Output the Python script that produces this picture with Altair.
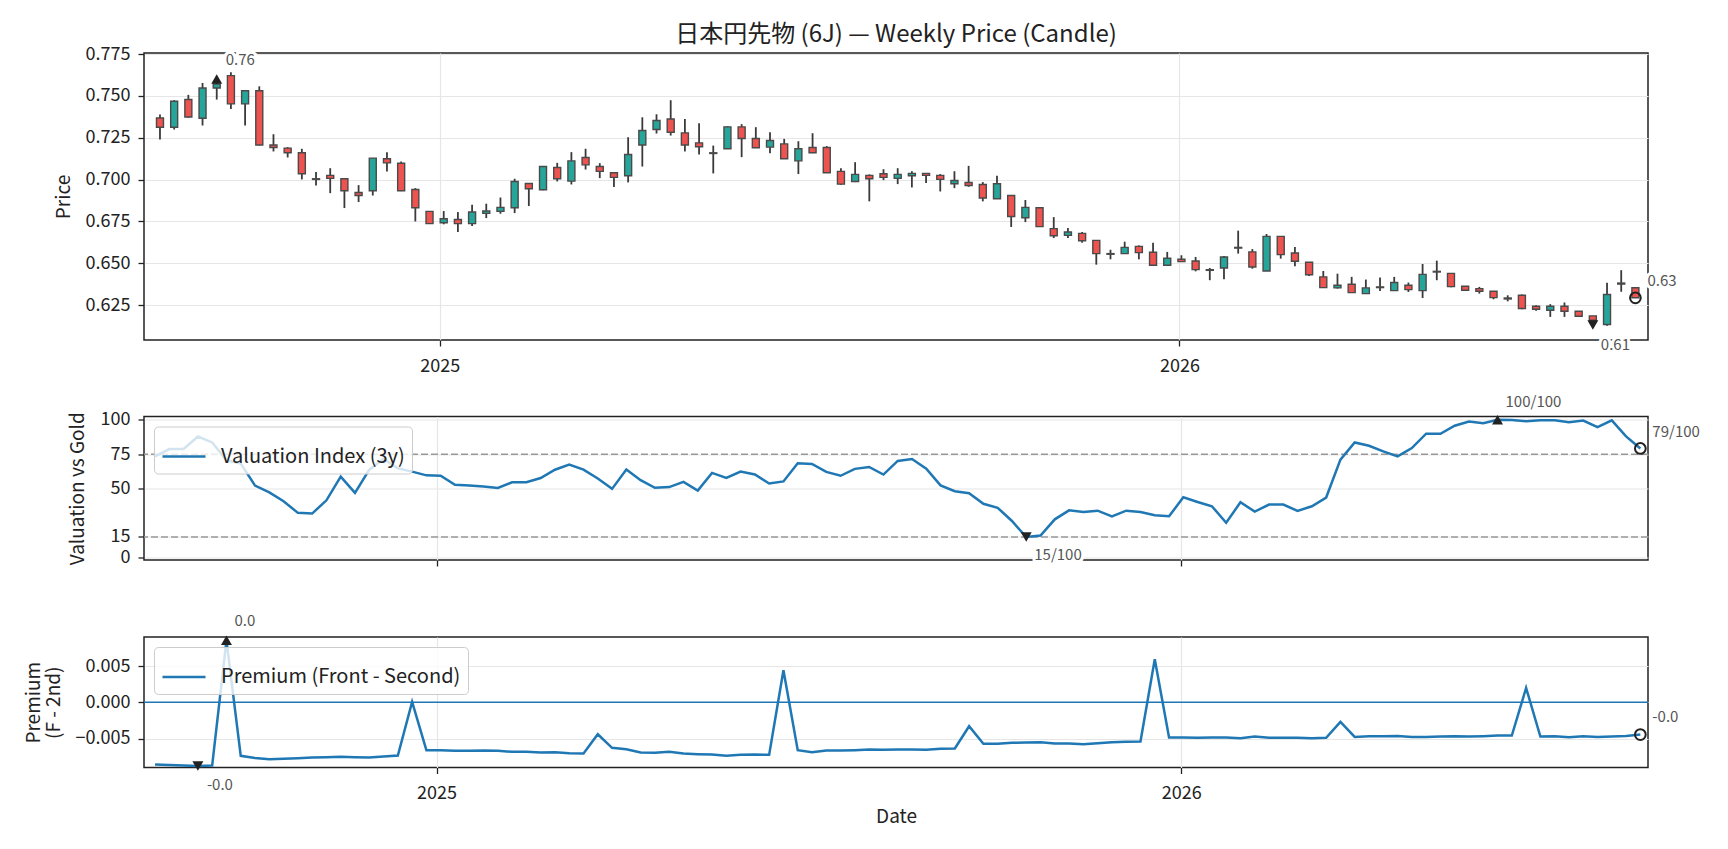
import altair as alt
import pandas as pd
import numpy as np

# ---------------- data ----------------
start_date = "2024-08-16"
n_weeks = 105

open_ = [0.7368,0.7313,0.7478,0.7366,0.7547,0.7621,0.7452,0.7531,0.7207,0.7188,
         0.7160,0.7005,0.7025,0.7005,0.6923,0.6933,0.7124,0.7098,0.6941,0.6810,
         0.6742,0.6762,0.6737,0.6798,0.6810,0.6832,0.6977,0.6939,0.7072,0.6991,
         0.7132,0.7078,0.7041,0.7023,0.7207,0.7299,0.7362,0.7279,0.7219,0.7160,
         0.7184,0.7315,0.7245,0.7194,0.7213,0.7112,0.7192,0.7192,0.7049,0.6989,
         0.7025,0.7035,0.7007,0.7023,0.7037,0.7025,0.6975,0.6983,0.6971,0.6886,
         0.6905,0.6772,0.6832,0.6707,0.6667,0.6679,0.6637,0.6558,0.6558,0.6601,
         0.6566,0.6488,0.6524,0.6514,0.6462,0.6472,0.6595,0.6568,0.6454,0.6661,
         0.6562,0.6506,0.6419,0.6353,0.6375,0.6319,0.6359,0.6337,0.6369,0.6337,
         0.6452,0.6440,0.6363,0.6349,0.6333,0.6293,0.6309,0.6244,0.6220,0.6244,
         0.6214,0.6186,0.6135,0.6382,0.6354]
high = [0.7388,0.7474,0.7506,0.7577,0.7601,0.7641,0.7533,0.7557,0.7271,0.7194,
        0.7184,0.7045,0.7068,0.7005,0.6967,0.7128,0.7164,0.7108,0.6949,0.6810,
        0.6812,0.6806,0.6850,0.6856,0.6893,0.7005,0.6977,0.7080,0.7100,0.7164,
        0.7184,0.7098,0.7045,0.7253,0.7372,0.7390,0.7474,0.7362,0.7337,0.7203,
        0.7319,0.7331,0.7313,0.7283,0.7243,0.7229,0.7277,0.7200,0.7068,0.7104,
        0.7031,0.7062,0.7068,0.7050,0.7037,0.7033,0.7050,0.7082,0.6985,0.7023,
        0.6905,0.6878,0.6834,0.6776,0.6711,0.6687,0.6637,0.6581,0.6629,0.6607,
        0.6623,0.6568,0.6548,0.6538,0.6472,0.6544,0.6695,0.6585,0.6675,0.6661,
        0.6597,0.6506,0.6454,0.6438,0.6419,0.6403,0.6415,0.6419,0.6385,0.6496,
        0.6516,0.6440,0.6363,0.6359,0.6333,0.6309,0.6313,0.6250,0.6256,0.6266,
        0.6214,0.6186,0.6384,0.6459,0.6354]
low = [0.7239,0.7299,0.7370,0.7323,0.7478,0.7422,0.7323,0.7205,0.7168,0.7132,
       0.7001,0.6965,0.6919,0.6830,0.6866,0.6905,0.7049,0.6931,0.6750,0.6735,
       0.6733,0.6687,0.6723,0.6770,0.6796,0.6800,0.6842,0.6937,0.6989,0.6971,
       0.7060,0.7009,0.6955,0.6983,0.7078,0.7275,0.7263,0.7168,0.7150,0.7037,
       0.7184,0.7134,0.7190,0.7158,0.7124,0.7033,0.7158,0.7041,0.6969,0.6985,
       0.6870,0.6997,0.6973,0.6953,0.6979,0.6929,0.6949,0.6957,0.6870,0.6886,
       0.6717,0.6746,0.6719,0.6651,0.6651,0.6623,0.6492,0.6524,0.6558,0.6524,
       0.6484,0.6484,0.6508,0.6452,0.6399,0.6405,0.6558,0.6468,0.6454,0.6528,
       0.6482,0.6424,0.6355,0.6349,0.6325,0.6319,0.6335,0.6337,0.6329,0.6293,
       0.6399,0.6357,0.6335,0.6319,0.6285,0.6273,0.6226,0.6216,0.6180,0.6180,
       0.6184,0.6160,0.6127,0.6330,0.6294]
close = [0.7313,0.7468,0.7374,0.7547,0.7571,0.7452,0.7531,0.7207,0.7192,0.7160,
         0.7035,0.7001,0.7007,0.6933,0.6905,0.7128,0.7100,0.6933,0.6832,0.6737,
         0.6766,0.6737,0.6806,0.6812,0.6834,0.6989,0.6945,0.7078,0.7005,0.7112,
         0.7088,0.7049,0.7013,0.7150,0.7293,0.7353,0.7283,0.7207,0.7196,0.7156,
         0.7315,0.7245,0.7190,0.7233,0.7124,0.7184,0.7160,0.7041,0.6973,0.7031,
         0.7005,0.7013,0.7031,0.7037,0.7025,0.7001,0.6995,0.6965,0.6890,0.6975,
         0.6780,0.6834,0.6719,0.6665,0.6687,0.6635,0.6558,0.6554,0.6595,0.6564,
         0.6488,0.6530,0.6510,0.6462,0.6458,0.6538,0.6591,0.6478,0.6661,0.6552,
         0.6512,0.6432,0.6355,0.6369,0.6325,0.6353,0.6355,0.6385,0.6343,0.6434,
         0.6448,0.6361,0.6339,0.6333,0.6295,0.6287,0.6230,0.6226,0.6244,0.6214,
         0.6184,0.6160,0.6314,0.6376,0.6294]
valuation = [73.5,78.8,78.8,87.9,83.6,70.6,68.2,52.3,47.4,40.9,
             32.5,32.0,41.6,58.8,47.0,63.8,71.6,64.8,62.4,59.7,
             59.5,52.8,52.3,51.6,50.6,54.7,54.7,57.8,63.8,67.5,
             63.9,57.4,49.9,63.9,56.2,50.7,51.2,55.0,48.7,61.5,
             57.9,62.5,60.3,53.8,55.3,68.5,68.0,62.2,59.4,64.4,
             65.8,60.3,70.2,71.6,64.6,52.4,48.2,46.8,39.1,36.2,
             26.6,15.0,16.0,27.8,34.3,33.1,34.1,30.0,34.1,33.1,
             30.7,30.0,43.8,40.4,37.3,25.3,40.2,33.4,38.5,38.5,
             33.9,37.3,43.6,71.1,83.6,81.2,77.1,73.5,79.5,89.9,
             89.9,95.7,98.8,97.6,100.0,99.8,99.0,99.7,99.7,98.3,
             99.5,94.7,99.6,88.0,79.2]
premium = [-0.00858,-0.00867,-0.00872,-0.00880,-0.00872,0.00854,-0.00739,-0.00770,-0.00785,-0.00780,
           -0.00771,-0.00762,-0.00757,-0.00753,-0.00757,-0.00762,-0.00748,-0.00734,0.00005,-0.00661,
           -0.00661,-0.00670,-0.00670,-0.00665,-0.00670,-0.00684,-0.00684,-0.00693,-0.00688,-0.00702,
           -0.00707,-0.00441,-0.00629,-0.00647,-0.00693,-0.00698,-0.00684,-0.00707,-0.00716,-0.00721,
           -0.00739,-0.00725,-0.00721,-0.00725,0.00441,-0.00661,-0.00689,-0.00666,-0.00666,-0.00661,
           -0.00652,-0.00656,-0.00652,-0.00652,-0.00656,-0.00643,-0.00638,-0.00331,-0.00574,-0.00574,
           -0.00560,-0.00556,-0.00551,-0.00569,-0.00569,-0.00579,-0.00565,-0.00551,-0.00546,-0.00542,
           0.00592,-0.00487,-0.00487,-0.00491,-0.00487,-0.00487,-0.00496,-0.00473,-0.00491,-0.00491,
           -0.00491,-0.00496,-0.00491,-0.00271,-0.00478,-0.00468,-0.00468,-0.00464,-0.00478,-0.00478,
           -0.00473,-0.00468,-0.00473,-0.00468,-0.00459,-0.00459,0.00197,-0.00473,-0.00468,-0.00482,
           -0.00468,-0.00478,-0.00473,-0.00464,-0.00446]

price_ticks = [0.625, 0.650, 0.675, 0.700, 0.725, 0.750, 0.775]
val_ticks = [0, 15, 50, 75, 100]
prem_ticks = [-0.005, 0.0, 0.005]
val_bands = [15, 75]
prem_zero = [0.0]

# highlighted points: (date, value, label)
price_hi = {"date": ["2024-09-13"], "value": [0.7601], "label": ["0.76"]}
price_lo = {"date": ["2026-07-24"], "value": [0.6131], "label": ["0.61"]}
price_last = {"date": ["2026-08-14"], "value": [0.6294], "label": ["0.63"]}
val_hi = {"date": ["2026-06-05"], "value": [100.0], "label": ["100/100"]}
val_lo = {"date": ["2025-10-17"], "value": [15.0], "label": ["15/100"]}
val_last = {"date": ["2026-08-14"], "value": [79.2], "label": ["79/100"]}
prem_hi = {"date": ["2024-09-20"], "value": [0.00854], "label": ["0.0"]}
prem_lo = {"date": ["2024-09-06"], "value": [-0.00880], "label": ["-0.0"]}
prem_last = {"date": ["2026-08-14"], "value": [-0.00446], "label": ["-0.0"]}

# ---------------- frames ----------------
dates = pd.date_range(start_date, periods=n_weeks, freq="7D").strftime("%Y-%m-%d")
candles = pd.DataFrame({"date": dates, "open": open_, "high": high, "low": low, "close": close})
candles["dir"] = np.where(np.array(close) >= np.array(open_), "up", "down")
val_df = pd.DataFrame({"date": dates, "value": valuation, "series": "Valuation Index (3y)"})
prem_df = pd.DataFrame({"date": dates, "value": premium, "series": "Premium (Front - Second)"})

FONT = "Noto Sans CJK JP"
DARK = "#222222"

x_domain = [alt.DateTime(year=2024, month=8, date=10, hours=14, utc=True),
            alt.DateTime(year=2026, month=8, date=17, hours=18, utc=True)]
x_vals = [alt.DateTime(year=2025, month=1, date=1, utc=True),
          alt.DateTime(year=2026, month=1, date=1, utc=True)]


def X(labels=True, title=None):
    ax = alt.Axis(values=x_vals, format="%Y", formatType="utc", labels=labels,
                  grid=True, labelPadding=11, titlePadding=5)
    if title is None:
        return alt.X("date:T", scale=alt.Scale(type="utc", domain=x_domain), axis=ax, title=None)
    return alt.X("date:T", scale=alt.Scale(type="utc", domain=x_domain), axis=ax, title=title)


def Yp(field):
    return alt.Y(field, scale=alt.Scale(domain=[0.6042, 0.7756], nice=False, zero=False),
                 axis=alt.Axis(values=price_ticks, format=".3f", titleX=-81, titleY=143.5,
                               titleBaseline="middle"),
                 title="Price")


def Yv(field):
    return alt.Y(field, scale=alt.Scale(domain=[-1.7, 102.4], nice=False, zero=False),
                 axis=alt.Axis(values=val_ticks, format="d", titleX=-67, titleY=71.75,
                               titleBaseline="middle"),
                 title="Valuation vs Gold")


def Yq(field):
    return alt.Y(field, scale=alt.Scale(domain=[-0.0090, 0.0090], nice=False, zero=False),
                 axis=alt.Axis(values=prem_ticks, format=".3f", titleX=-111, titleY=65.25,
                               titleBaseline="middle", titleLineHeight=20),
                 title=["Premium", "(F - 2nd)"])


def markers(d, shape, ycode, xcode, filled=True):
    return alt.Chart(pd.DataFrame(d)).mark_point(
        shape=shape, filled=filled, size=120 if filled else 115, color=DARK,
        strokeWidth=2, opacity=1
    ).encode(x=xcode, y=ycode)


def label(d, ycode, xcode, dx, dy):
    base = alt.Chart(pd.DataFrame(d))
    halo = base.mark_text(align="left", baseline="middle", dx=dx, dy=dy, fontSize=15,
                          color="white", stroke="white", strokeWidth=6).encode(
        x=xcode, y=ycode, text="label:N")
    txt = base.mark_text(align="left", baseline="middle", dx=dx, dy=dy, fontSize=15,
                         color="#555555").encode(x=xcode, y=ycode, text="label:N")
    return [halo, txt]


# ---------------- top: candles ----------------
xt = X(labels=True)
wick = alt.Chart(candles).mark_rule(color="#3a3a3a", strokeWidth=1.8).encode(
    x=xt, y=Yp("low:Q"), y2="high:Q")
body = alt.Chart(candles).mark_bar(size=7, stroke="#4a4a4a", strokeWidth=1.4).encode(
    x=xt, y=Yp("open:Q"), y2="close:Q",
    color=alt.Color("dir:N", scale=alt.Scale(domain=["up", "down"], range=["#26a69a", "#ef5350"]),
                    legend=None))
top = alt.layer(
    wick, body,
    markers(price_hi, "triangle-up", Yp("value:Q"), xt),
    markers(price_lo, "triangle-down", Yp("value:Q"), xt),
    markers(price_last, "circle", Yp("value:Q"), xt, filled=False),
    *label(price_hi, Yp("value:Q"), xt, 9, -19),
    *label(price_lo, Yp("value:Q"), xt, 8, 20),
    *label(price_last, Yp("value:Q"), xt, 12, -17),
).properties(width=1504, height=287,
             title=alt.TitleParams("日本円先物 (6J) — Weekly Price (Candle)", anchor="middle",
                                   fontSize=24, fontWeight="normal", color=DARK, offset=-2))

# ---------------- middle: valuation ----------------
xm = X(labels=False)
bands = alt.Chart(pd.DataFrame({"value": val_bands})).mark_rule(
    color="#999999", strokeDash=[7, 3], strokeWidth=1.5).encode(y=Yv("value:Q"))
vline = alt.Chart(val_df).mark_line(strokeWidth=2.5).encode(
    x=xm, y=Yv("value:Q"),
    color=alt.Color("series:N", scale=alt.Scale(range=["#1f77b4"]), title=None,
                    legend=alt.Legend(orient="top-left")))
mid = alt.layer(
    bands, vline,
    markers(val_hi, "triangle-up", Yv("value:Q"), xm),
    markers(val_lo, "triangle-down", Yv("value:Q"), xm),
    markers(val_last, "circle", Yv("value:Q"), xm, filled=False),
    *label(val_hi, Yv("value:Q"), xm, 8, -18),
    *label(val_lo, Yv("value:Q"), xm, 8, 18),
    *label(val_last, Yv("value:Q"), xm, 12, -16),
).properties(width=1504, height=143.5)

# ---------------- bottom: premium ----------------
xb = X(labels=True, title="Date")
zero = alt.Chart(pd.DataFrame({"value": prem_zero})).mark_rule(
    color="#1f77b4", strokeWidth=1.6).encode(y=Yq("value:Q"))
pline = alt.Chart(prem_df).mark_line(strokeWidth=2.5).encode(
    x=xb, y=Yq("value:Q"),
    color=alt.Color("series:N", scale=alt.Scale(range=["#1f77b4"]), title=None,
                    legend=alt.Legend(orient="top-left")))
bot = alt.layer(
    zero, pline,
    markers(prem_hi, "triangle-up", Yq("value:Q"), xb),
    markers(prem_lo, "triangle-down", Yq("value:Q"), xb),
    markers(prem_last, "circle", Yq("value:Q"), xb, filled=False),
    *label(prem_hi, Yq("value:Q"), xb, 8, -19),
    *label(prem_lo, Yq("value:Q"), xb, 9, 19),
    *label(prem_last, Yq("value:Q"), xb, 12, -18),
).properties(width=1504, height=130.5)

chart = alt.vconcat(top, mid, bot, spacing=76.5, bounds="flush").resolve_scale(
    x="independent", y="independent", color="independent"
).resolve_legend(color="independent").properties(
    padding={"left": 15, "top": 14, "right": 10, "bottom": 5}
).configure(font=FONT).configure_axis(
    labelFontSize=18, titleFontSize=19, titleFontWeight="normal", labelColor=DARK,
    titleColor=DARK, tickColor=DARK, tickSize=6, tickWidth=1.3, domain=False,
    gridColor="#e6e6e6", gridWidth=1.2, labelPadding=8
).configure_view(stroke=DARK, strokeWidth=1.5).configure_legend(
    fillColor="rgba(255,255,255,0.8)", strokeColor="#cccccc", cornerRadius=4, padding=7,
    offset=10, symbolType="stroke", symbolStrokeWidth=2.5, symbolSize=1850,
    labelFontSize=20, labelColor=DARK, labelOffset=14, labelLimit=500
)

chart.save("out.html", embed_options={"renderer": "svg", "actions": False})
